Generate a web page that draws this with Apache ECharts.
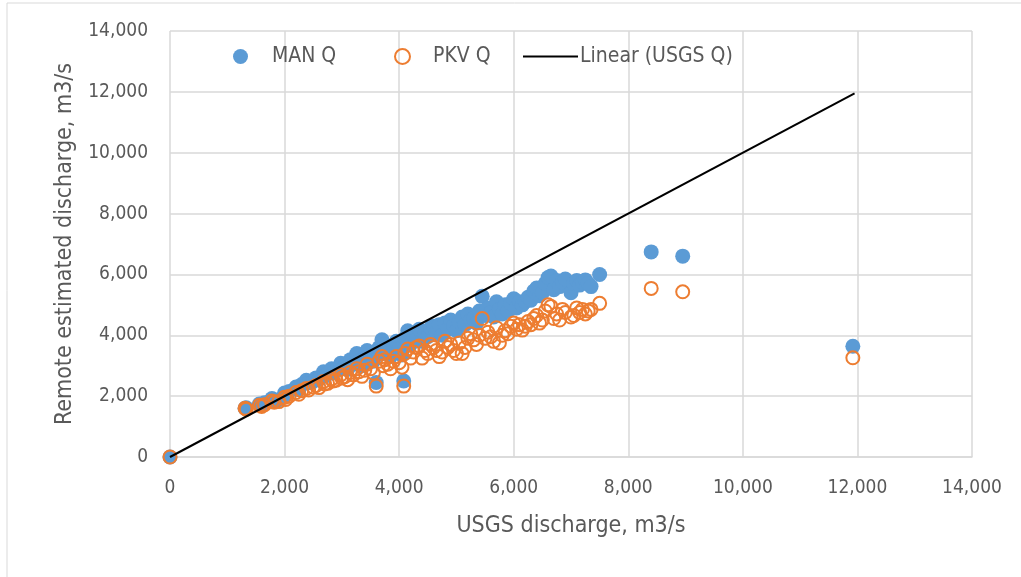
<!DOCTYPE html>
<html>
<head>
<meta charset="utf-8">
<script src="https://cdn.jsdelivr.net/npm/echarts@6/dist/echarts.min.js"></script>
<style>
  html, body { margin: 0; padding: 0; background: #fff; }
  #chart { width: 1021px; height: 577px; }
</style>
</head>
<body>
<div id="chart"></div>
<script>
// USGS discharge (x) for each sample, with the two remote estimates
const usgsQ = [
  0, 1310, 1330, 1560, 1600, 1650, 1780, 1820, 1900, 2000, 2020, 2080, 2200, 2250, 2300,
  2380, 2420, 2500, 2550, 2600, 2680, 2700, 2750, 2820, 2850, 2900, 2980, 3000, 3050, 3100,
  3150, 3200, 3260, 3300, 3350, 3400, 3440, 3500, 3550, 3600, 3650, 3700, 3720, 3750, 3800,
  3850, 3900, 3950, 4000, 4050, 4080, 4100, 4150, 4200, 4250, 4300, 4350, 4400, 4450, 4500,
  4550, 4600, 4650, 4700, 4750, 4800, 4850, 4900, 4950, 5000, 5050, 5100, 5150, 5200, 5250,
  5300, 5350, 5400, 5450, 5500, 5550, 5600, 5650, 5700, 5750, 5800, 5850, 5900, 5950, 6000,
  6050, 6100, 6150, 6200, 6250, 6300, 6350, 6400, 6450, 6500, 6550, 6600, 6650, 6700, 6750,
  6800, 6850, 6900, 7000, 7050, 7100, 7150, 7200, 7250, 7300, 7350, 7500, 8400, 8950, 11920
];
const manQ = [
  0, 1600, 1620, 1740, 1700, 1780, 1920, 1860, 1880, 2100, 2040, 2150, 2300, 2210, 2380,
  2520, 2440, 2480, 2600, 2560, 2800, 2650, 2720, 2900, 2760, 2850, 3080, 2900, 2980, 2880,
  3200, 3050, 3400, 3150, 3000, 3250, 3500, 3300, 3150, 2450, 3600, 3850, 3400, 3700, 3500,
  3300, 3650, 3800, 3550, 3350, 2500, 3900, 4150, 3700, 4000, 3850, 4200, 3800, 4050, 3950,
  4250, 4300, 4100, 4350, 4000, 4400, 4200, 4500, 4300, 4150, 4450, 4600, 4350, 4700, 4500,
  4550, 4400, 4800, 5280, 4650, 4900, 4750, 4600, 5100, 4850, 4700, 5000, 4800, 5050, 5200,
  4900, 5100, 5000, 5100, 5250, 5150, 5450, 5550, 5300, 5400, 5700, 5900, 5950, 5500, 5800,
  5600, 5750, 5850, 5400, 5700, 5800, 5650, 5750, 5820, 5700, 5600, 6000, 6740, 6600, 3640
];
const pkvQ = [
  0, 1600, 1570, 1700, 1660, 1720, 1840, 1800, 1820, 1960, 1890, 2000, 2120, 2060, 2180,
  2250, 2200, 2300, 2350, 2280, 2480, 2400, 2420, 2560, 2500, 2520, 2700, 2600, 2640, 2540,
  2780, 2700, 2900, 2800, 2650, 2850, 3050, 2900, 2760, 2330, 3150, 3300, 3000, 3200, 3050,
  2900, 3150, 3300, 3100, 2950, 2330, 3400, 3550, 3250, 3450, 3600, 3650, 3250, 3500, 3400,
  3700, 3600, 3500, 3300, 3450, 3800, 3600, 3700, 3500, 3400, 3750, 3400, 3600, 3900, 4050,
  3850, 3700, 4000, 4550, 3900, 4100, 3950, 3800, 4250, 3750, 4000, 4150, 4050, 4300, 4400,
  4200, 4350, 4170, 4300, 4450, 4350, 4550, 4650, 4400, 4500, 4800, 5000, 4950, 4550, 4700,
  4500, 4850, 4750, 4600, 4650, 4900, 4750, 4850, 4700, 4800, 4850, 5050, 5540, 5430, 3260
];
// trend line end points
const linearX = [0, 11950];
const linearY = [0, 11950];

const xTicks = [0, 2000, 4000, 6000, 8000, 10000, 12000, 14000];

const textColor = '#595959';
const gridColor = '#d9d9d9';
const font = "'Liberation Sans Narrow', 'DejaVu Sans Condensed', 'Liberation Sans', sans-serif";

const chart = echarts.init(document.getElementById('chart'));

const fmt = v => v.toLocaleString('en-US');

const legendText = pad => ({ fontFamily: font, fontSize: 21, color: textColor, padding: [0, 0, 0, pad] });

chart.setOption({
  animation: false,
  textStyle: { fontFamily: font, color: textColor },
  graphic: [{
    type: 'rect',
    shape: { x: 7, y: 3, width: 1200, height: 800 },
    style: { fill: 'none', stroke: gridColor, lineWidth: 1 },
    silent: true
  }],
  grid: { left: 170, right: 49, top: 31, bottom: 120 },
  legend: [{
    data: ['MAN Q'],
    left: 233, top: 46, padding: 0,
    itemWidth: 15, itemHeight: 15,
    textStyle: legendText(19)
  }, {
    data: ['PKV Q'],
    left: 394, top: 46, padding: 0,
    itemWidth: 15, itemHeight: 15,
    textStyle: legendText(18)
  }, {
    data: [{ name: 'Linear (USGS Q)', icon: 'rect' }],
    left: 523, top: 46, padding: 0,
    itemWidth: 55, itemHeight: 2,
    textStyle: legendText(-3)
  }],
  xAxis: {
    type: 'value',
    min: 0,
    max: 14000,
    interval: 2000,
    name: 'USGS discharge, m3/s',
    nameLocation: 'middle',
    nameGap: 58,
    nameTextStyle: { fontFamily: font, fontSize: 23, color: textColor },
    axisLine: { show: true, lineStyle: { color: gridColor, width: 1.5 } },
    axisTick: { show: false },
    splitLine: { show: true, lineStyle: { color: gridColor, width: 1.5 } },
    axisLabel: {
      margin: 22,
      fontSize: 19,
      color: textColor,
      fontFamily: font,
      formatter: v => xTicks.includes(v) ? fmt(v) : ''
    }
  },
  yAxis: {
    type: 'value',
    min: 0,
    max: 14000,
    interval: 2000,
    name: 'Remote estimated discharge, m3/s',
    nameLocation: 'middle',
    nameGap: 93,
    nameTextStyle: { fontFamily: font, fontSize: 23, color: textColor },
    axisLine: { show: false },
    axisTick: { show: false },
    splitLine: { show: true, lineStyle: { color: gridColor, width: 1.5 } },
    axisLabel: {
      margin: 22,
      fontSize: 19,
      color: textColor,
      fontFamily: font,
      formatter: v => fmt(v)
    }
  },
  series: [{
    name: 'MAN Q',
    type: 'scatter',
    symbol: 'circle',
    symbolSize: 15,
    itemStyle: { color: '#5b9bd5', opacity: 1 },
    data: usgsQ.map((x, i) => [x, manQ[i]]),
    z: 2
  }, {
    name: 'PKV Q',
    type: 'scatter',
    symbol: 'circle',
    symbolSize: 13,
    itemStyle: { color: 'rgba(255,255,255,0)', borderColor: '#ed7d31', borderWidth: 2, opacity: 1 },
    data: usgsQ.map((x, i) => [x, pkvQ[i]]),
    z: 3
  }, {
    name: 'Linear (USGS Q)',
    type: 'line',
    showSymbol: false,
    symbol: 'none',
    lineStyle: { color: '#000', width: 2 },
    itemStyle: { color: '#000' },
    data: linearX.map((x, i) => [x, linearY[i]]),
    z: 4
  }]
});
</script>
</body>
</html>
